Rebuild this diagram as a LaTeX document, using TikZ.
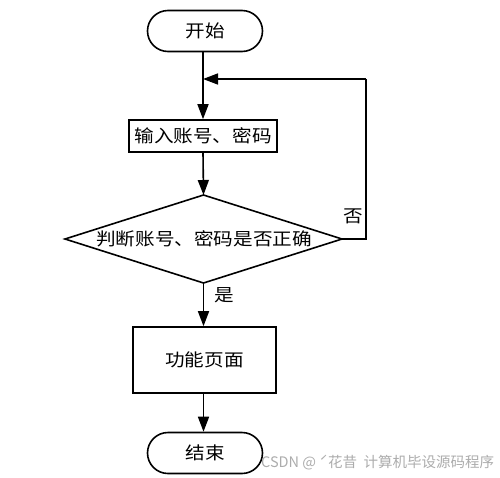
\documentclass[tikz,border=0pt]{standalone}
\usepackage{fontspec}
\setmainfont{Noto Sans CJK SC}
\newfontfamily\cjk[FakeStretch=1.12]{Noto Sans CJK SC}
\usetikzlibrary{arrows.meta,shapes.geometric,shapes.misc}
\begin{document}
\begin{tikzpicture}[x=1pt,y=-1pt,
  base/.style={draw=black,line width=1.6pt,font=\cjk\fontsize{17.5}{17.5}\selectfont,inner sep=0pt},
  term/.style={base,rounded rectangle,minimum width=115pt,minimum height=41pt},
  proc/.style={base,rectangle},
  conn/.style={line width=1.6pt,-{Triangle[width=11pt,length=15pt]}},
  lbl/.style={font=\cjk\fontsize{17.5}{17.5}\selectfont,inner sep=0pt}]
\useasboundingbox (0,0) rectangle (500,477);
\node[term] (start) at (205,31) {开始};
\node[proc,minimum width=148pt,minimum height=32pt] (input) at (203,136) {输入账号、密码};
\draw[line width=1.6pt] (65,239) coordinate (dl) -- (203.5,195) coordinate (dt) -- (342,239) coordinate (dr) -- (203.5,283) coordinate (db) -- cycle;
\node[lbl] (dtext) at (204,239) {判断账号、密码是否正确};
\node[proc,minimum width=143pt,minimum height=66pt] (func) at (204.5,360) {功能页面};
\node[term] (end) at (205,453) {结束};
\coordinate (join) at (203,79);
\coordinate (rc) at (366,239);
\coordinate (tc) at (366,79);
\draw[line width=1.6pt] (start.south -| join) -- (join);
\draw[conn] (join) -- (input.north -| join);
\draw[conn] (input.south -| join) -- (dt);
\draw[line width=1.6pt] (dr) -- (rc) -- (tc);
\draw[conn] (tc) -- (join);
\draw[conn] (db) -- (func.north -| db);
\draw[conn] (func.south -| db) -- (end.north -| db);
\node[lbl] (no) at (353,216) {否};
\node[lbl] (yes) at (224,295) {是};
\node[font=\fontsize{14.5}{14.5}\selectfont,text=gray!65,anchor=west,inner sep=0pt] (wm) at (261,463) {CSDN @ ˊ花昔\ \ 计算机毕设源码程序};
\end{tikzpicture}
\end{document}
